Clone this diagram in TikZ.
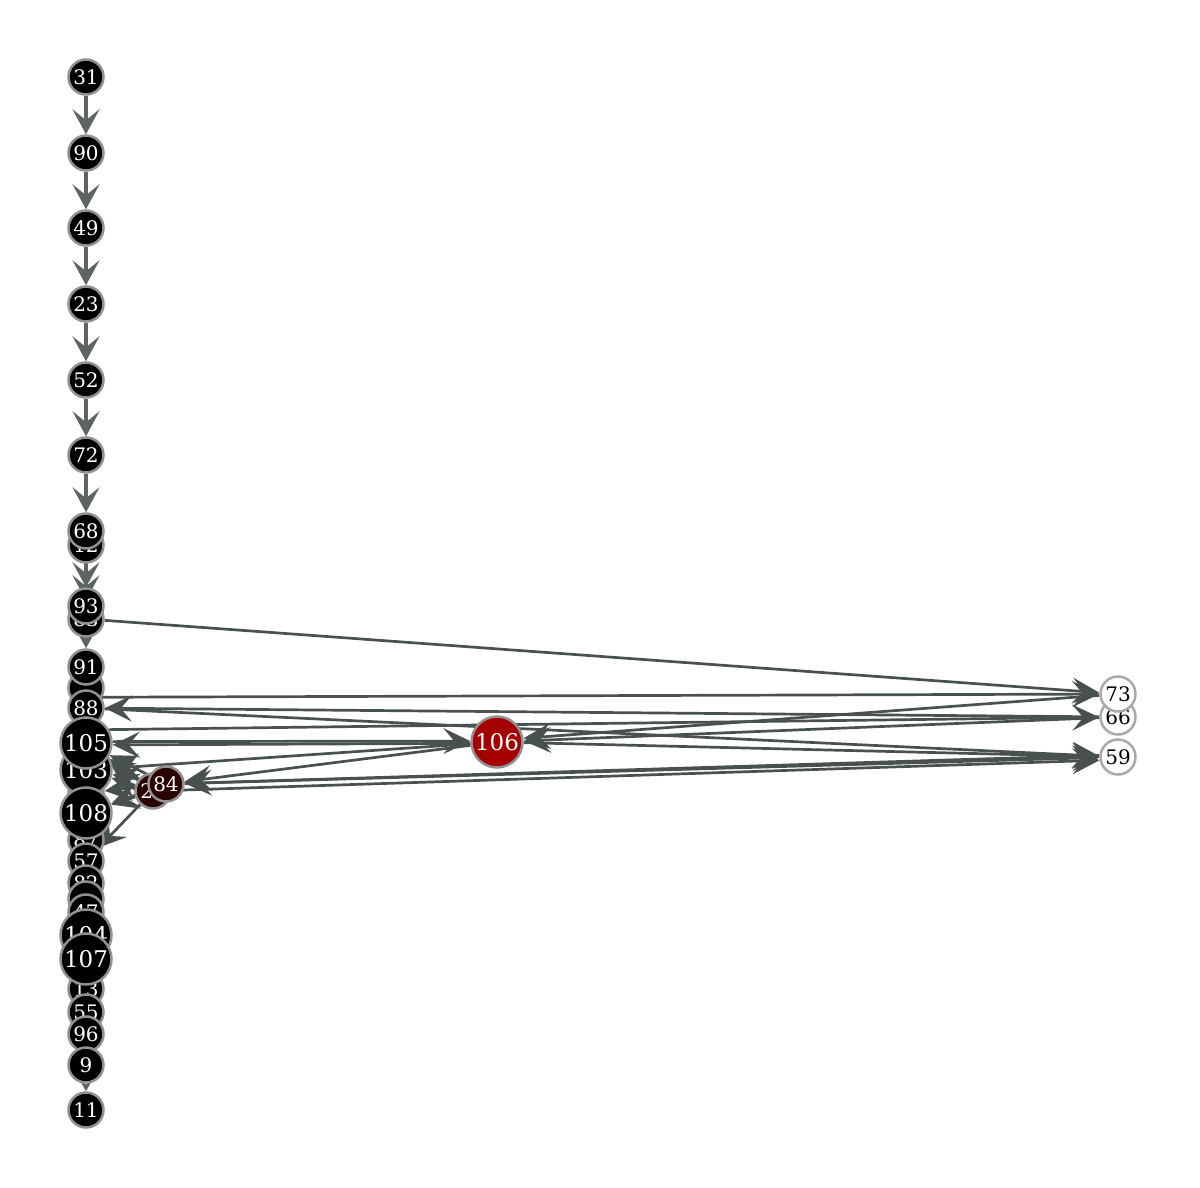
\documentclass[tikz,border=0pt]{standalone}
\usepackage{fontspec}
\setmainfont{DejaVu Serif}
\usetikzlibrary{arrows.meta}
\definecolor{ecol}{RGB}{72,80,80}
\definecolor{ccol}{RGB}{92,100,100}
\definecolor{nbord}{RGB}{145,145,145}
\definecolor{wbord}{RGB}{170,170,170}
\definecolor{redn}{RGB}{165,0,0}
\definecolor{darkred}{RGB}{42,0,0}
\pgfdeclarelayer{edgelayer}
\pgfsetlayers{edgelayer,main}
\begin{document}
\begin{tikzpicture}[x=1pt,y=-1pt,
  vn/.style={circle, fill=black, draw=nbord, line width=2.5pt, minimum size=35pt, inner sep=0pt, text=white, font=\fontsize{20}{20}\selectfont},
  bign/.style={vn, minimum size=51pt, font=\fontsize{23}{23}\selectfont},
  wn/.style={vn, fill=white, text=black, draw=wbord},
  rn/.style={bign, fill=redn},
  dn/.style={vn, fill=darkred},
  ce/.style={draw=ccol, line width=3.2pt, -{Stealth[length=25pt,width=27pt,inset=11pt]}},
  e/.style={draw=ecol, line width=2.7pt, -{Stealth[length=27pt,width=26pt,inset=11pt]}},
  se/.style={draw=ccol, line width=2pt, -{Stealth[length=9pt,width=10pt,inset=2pt]}}
]
\useasboundingbox (0,0) rectangle (1200,1188);

\node[vn] (n12) at (86,545) {12};
\node[vn] (n68) at (86,531) {68};
\node[vn] (n83) at (86,619) {83};
\node[vn] (n93) at (86,606) {93};
\node[vn] (h688) at (86,688) {};
\node[vn] (n91) at (86,667) {91};
\node[vn] (n88) at (86,708) {88};
\node[vn] (n87) at (86,840) {87};
\node[vn] (h793) at (86,793) {};
\node[bign] (n103) at (86,770) {103};
\node[bign] (n105) at (86,743) {105};
\node[bign] (n108) at (86,813) {108};
\node[vn] (n57) at (86,861) {57};
\node[vn] (n82) at (86,883) {82};
\node[vn] (h898) at (86,899) {};
\node[vn] (n47) at (86,912) {47};
\node[vn] (n13) at (86,989) {13};
\node[bign] (n104) at (86,935) {104};
\node[bign] (n107) at (86,959) {107};
\node[vn] (n55) at (86,1012) {55};
\node[vn] (n96) at (86,1034) {96};
\node[vn] (n9) at (86,1065) {9};
\node[vn] (n11) at (86,1110) {11};
\node[vn] (n31) at (86,77) {31};
\node[vn] (n90) at (86,153) {90};
\node[vn] (n49) at (86,228) {49};
\node[vn] (n23) at (86,304) {23};
\node[vn] (n52) at (86,380) {52};
\node[vn] (n72) at (86,455) {72};
\node[dn] (n28) at (153,791) {28};
\node[dn] (n84) at (166,784) {84};
\node[rn] (n106) at (497,742) {106};
\node[wn] (n66) at (1118,717) {66};
\node[wn] (n59) at (1118,757) {59};
\node[wn] (n73) at (1118,694) {73};

\begin{pgfonlayer}{edgelayer}
% chain
\draw[ce] (n31) -- (n90);
\draw[ce] (n90) -- (n49);
\draw[ce] (n49) -- (n23);
\draw[ce] (n23) -- (n52);
\draw[ce] (n52) -- (n72);
\draw[ce] (n72) -- (n68);
\draw[ce] (n68) -- (n93);
\draw[ce] (n12) -- (n83);
\draw[ce] (n93) -- (n91);
\draw[se] (n9) -- (n11);
% long edges
\draw[e] (n83) -- (n73);
\draw[e] (n88.35) -- (n73);
\draw[e] (n66) -- (n88);
\draw[e] (n105.30) -- (n66);
\draw[e] (n105.3) -- (n106.178);
\draw[e] (n106.183) -- (n105.-4);
\draw[e] (n73) -- (n106.8);
\draw[e] (n66) -- (n106);
\draw[e] (n106) -- (n59);
\draw[e] (n88) -- (n59);
\draw[e] (n106) -- (n84);
\draw[e] (n84) -- (n59);
\draw[e] (n28) -- (n59.190);
\draw[e] (n59.175) -- (n84);
\draw[e] (n73) -- (n66);
% short edges from dark red nodes
\draw[e] (n84) -- (n105);
\draw[e] (n84) -- (n103);
\draw[e] (n28) -- (n103);
\draw[e] (n84) -- (n108);
\draw[e] (n28) -- (n108);
\draw[e] (n28) -- (n57);
\draw[e] (n28) -- (n105);
\draw[e] (n84) -- (h793);
\draw[e] (n106) -- (n103);
\end{pgfonlayer}
\end{tikzpicture}
\end{document}
